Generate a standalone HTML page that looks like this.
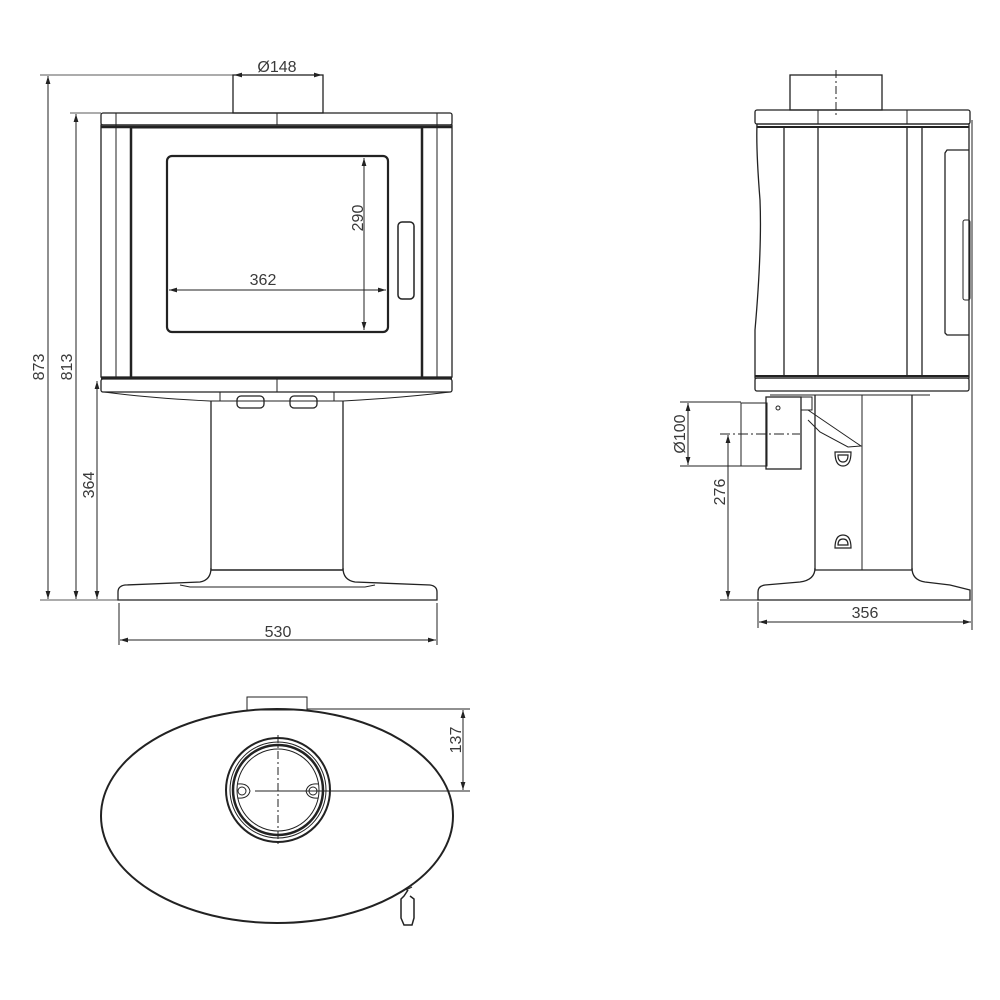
<!DOCTYPE html>
<html><head><meta charset="utf-8"><style>html,body{margin:0;padding:0;background:#fff}svg{display:block}text{font-family:"Liberation Sans",sans-serif;fill:#3a3a3a}</style></head>
<body>
<svg width="1000" height="1000" viewBox="0 0 1000 1000" xmlns="http://www.w3.org/2000/svg">
<defs>
<marker id="a" viewBox="0 0 10 6" refX="10" refY="3" markerWidth="8" markerHeight="5" orient="auto-start-reverse"><path d="M0,0 L10,3 L0,6z" fill="#222"/></marker>
</defs>
<g fill="none" stroke="#222" stroke-width="1">
<!-- FRONT VIEW -->
<line x1="40" y1="75" x2="233" y2="75" stroke-width="0.8"/>
<line x1="70" y1="113" x2="101" y2="113" stroke-width="0.8"/>
<line x1="40" y1="600" x2="118" y2="600" stroke-width="0.8"/>
<line x1="48" y1="76" x2="48" y2="599" marker-start="url(#a)" marker-end="url(#a)"/>
<line x1="76" y1="114" x2="76" y2="599" marker-start="url(#a)" marker-end="url(#a)"/>
<line x1="97" y1="381" x2="97" y2="599" marker-start="url(#a)" marker-end="url(#a)"/>
<line x1="234" y1="75" x2="322" y2="75" marker-start="url(#a)" marker-end="url(#a)"/>
<rect x="233" y="75" width="90" height="38" stroke-width="1.3"/>
<rect x="101" y="113" width="351" height="12" rx="2" stroke-width="1.3"/>
<line x1="277" y1="113" x2="277" y2="125"/>
<line x1="116" y1="113" x2="116" y2="125"/><line x1="437" y1="113" x2="437" y2="125"/>
<rect x="101" y="125" width="351" height="252" stroke-width="1.3"/>
<line x1="101" y1="127" x2="452" y2="127" stroke-width="2.5"/>
<line x1="116" y1="125" x2="116" y2="377"/><line x1="437" y1="125" x2="437" y2="377"/>
<line x1="131" y1="127" x2="131" y2="377" stroke-width="2.5"/><line x1="422" y1="127" x2="422" y2="377" stroke-width="2.5"/>
<rect x="131" y="128" width="291" height="249"/>
<line x1="101" y1="378" x2="452" y2="378" stroke-width="2.5"/>
<rect x="101" y="379" width="351" height="13" rx="2" stroke-width="1.3"/>
<line x1="277" y1="379" x2="277" y2="392"/>
<rect x="167" y="156" width="221" height="176" rx="5" stroke-width="2.2"/>
<rect x="398" y="222" width="16" height="77" rx="4" stroke-width="1.5"/>
<line x1="364" y1="158" x2="364" y2="330" marker-start="url(#a)" marker-end="url(#a)"/>
<line x1="169" y1="290" x2="386" y2="290" marker-start="url(#a)" marker-end="url(#a)"/>
<path d="M104,392 Q150,398 210,401 L343,401 Q400,398 450,392"/>
<rect x="220" y="392" width="114" height="9"/>
<rect x="237" y="396" width="27" height="12" rx="4" stroke-width="1.3"/>
<rect x="290" y="396" width="27" height="12" rx="4" stroke-width="1.3"/>
<line x1="211" y1="401" x2="211" y2="570" stroke-width="1.3"/>
<line x1="343" y1="401" x2="343" y2="570" stroke-width="1.3"/>
<path d="M211,568 Q211,580 200,582 L125,585 Q118,586 118,592 L118,600 L437,600 L437,592 Q437,586 430,585 L355,582 Q343,580 343,568" stroke-width="1.3"/>
<line x1="211" y1="570" x2="343" y2="570" stroke-width="1.5"/>
<path d="M180,585 L190,587 L365,587 L375,585"/>
<line x1="119" y1="603" x2="119" y2="645"/><line x1="437" y1="603" x2="437" y2="645"/>
<line x1="120" y1="640" x2="436" y2="640" marker-start="url(#a)" marker-end="url(#a)"/>

<!-- SIDE VIEW -->
<rect x="790" y="75" width="92" height="35" stroke-width="1.3"/>
<line x1="836" y1="70" x2="836" y2="118" stroke-dasharray="8,3,2,3"/>
<rect x="755" y="110" width="215" height="14" rx="2" stroke-width="1.3"/>
<line x1="818" y1="110" x2="818" y2="124"/><line x1="907" y1="110" x2="907" y2="124"/>
<path d="M757,124 L969,124 L969,378 L755,378 L755,330 Q762,250 760,200 Q756,150 757,124" stroke-width="1.3"/>
<line x1="757" y1="127" x2="969" y2="127" stroke-width="2"/>
<line x1="784" y1="127" x2="784" y2="376" stroke-width="1.3"/>
<line x1="818" y1="127" x2="818" y2="376" stroke-width="1.3"/>
<line x1="907" y1="127" x2="907" y2="376" stroke-width="1.3"/>
<line x1="922" y1="127" x2="922" y2="376" stroke-width="1.3"/>
<line x1="755" y1="376" x2="969" y2="376" stroke-width="2"/>
<rect x="755" y="378" width="214" height="13" rx="2" stroke-width="1.3"/>
<path d="M969,150 L947,150 L945,153 L945,333 L947,335 L969,335" stroke-width="1.3"/>
<rect x="963" y="220" width="7" height="80" rx="2"/>
<line x1="815" y1="395" x2="815" y2="570" stroke-width="1.3"/>
<line x1="912" y1="395" x2="912" y2="570" stroke-width="1.3"/>
<line x1="862" y1="395" x2="862" y2="570"/>
<path d="M760,391 L950,391 M770,395 L930,395"/>
<rect x="741" y="403" width="26" height="63"/>
<rect x="766" y="397" width="35" height="72" stroke-width="1.3"/>
<circle cx="778" cy="408" r="2"/>
<path d="M801,397 L812,397 L812,410 L801,410 M808,410 L855,442 L861,446 L848,447 L820,432 L808,420"/>
<path d="M835,452 Q835,466 843,466 Q851,466 851,452 Z M838,455 Q838,462 843,462 Q848,462 848,455 Z" stroke-width="1.2"/>
<path d="M835,548 Q835,535 843,535 Q851,535 851,548 Z M838,545 Q838,539 843,539 Q848,539 848,545 Z" stroke-width="1.2"/>
<path d="M815,568 Q815,580 800,582 L765,585 Q758,586 758,592 L758,600 L970,600 L970,590 L950,585 L925,582 Q912,580 912,568" stroke-width="1.3"/>
<line x1="815" y1="570" x2="912" y2="570" stroke-width="1.3"/>
<line x1="680" y1="402" x2="741" y2="402"/><line x1="680" y1="466" x2="741" y2="466"/>
<line x1="688" y1="403" x2="688" y2="465" marker-start="url(#a)" marker-end="url(#a)"/>
<line x1="720" y1="434" x2="800" y2="434" stroke-dasharray="10,3,2,3"/>
<line x1="720" y1="600" x2="758" y2="600"/>
<line x1="728" y1="435" x2="728" y2="599" marker-start="url(#a)" marker-end="url(#a)"/>
<line x1="758" y1="602" x2="758" y2="628"/>
<line x1="972" y1="120" x2="972" y2="630"/>
<line x1="759" y1="622" x2="971" y2="622" marker-start="url(#a)" marker-end="url(#a)"/>

<!-- TOP VIEW -->
<rect x="247" y="697" width="60" height="13"/>
<ellipse cx="277" cy="816" rx="176" ry="107" stroke-width="2"/>
<circle cx="278" cy="790" r="52" stroke-width="2"/>
<circle cx="278" cy="790" r="48" stroke-width="1"/>
<circle cx="278" cy="790" r="45" stroke-width="2.5"/>
<circle cx="278" cy="790" r="41" stroke-width="1"/>
<circle cx="242" cy="791" r="4"/><circle cx="313" cy="791" r="4"/>
<path d="M238,784 Q248,783 250,791 Q248,799 238,798"/>
<path d="M318,784 Q308,783 306,791 Q308,799 318,798"/>
<line x1="278" y1="735" x2="278" y2="845" stroke-dasharray="8,3,2,3"/>
<line x1="255" y1="791" x2="470" y2="791"/>
<line x1="307" y1="709" x2="470" y2="709"/>
<line x1="463" y1="710" x2="463" y2="790" marker-start="url(#a)" marker-end="url(#a)"/>
<path d="M408,890 L404,896 L401,899 L401,918 L404,925 L412,925 L414,918 L414,899 L410,896" stroke-width="1.5"/>
<path d="M406,890 L412,887"/>
</g>
<g font-size="16">
<text x="277" y="72" text-anchor="middle">Ø148</text>
<text x="263" y="285" text-anchor="middle">362</text>
<text x="278" y="637" text-anchor="middle">530</text>
<text x="865" y="618" text-anchor="middle">356</text>
<text transform="translate(363,218) rotate(-90)" text-anchor="middle">290</text>
<text transform="translate(44,367) rotate(-90)" text-anchor="middle">873</text>
<text transform="translate(72,367) rotate(-90)" text-anchor="middle">813</text>
<text transform="translate(94,485) rotate(-90)" text-anchor="middle">364</text>
<text transform="translate(685,434) rotate(-90)" text-anchor="middle">Ø100</text>
<text transform="translate(725,492) rotate(-90)" text-anchor="middle">276</text>
<text transform="translate(461,740) rotate(-90)" text-anchor="middle">137</text>
</g>
</svg>
</body></html>
